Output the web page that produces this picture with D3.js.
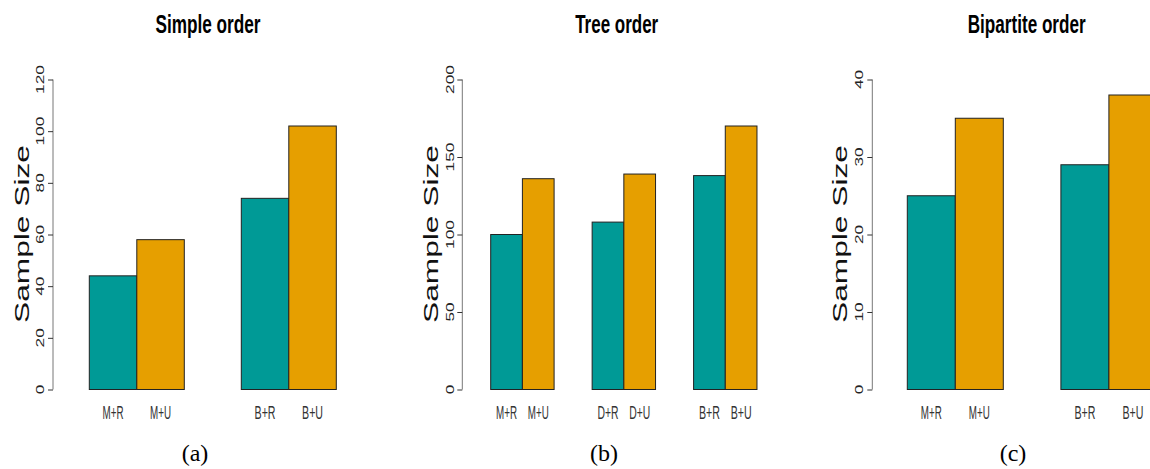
<!DOCTYPE html>
<html>
<head>
<meta charset="utf-8">
<script src="https://cdn.jsdelivr.net/npm/d3@7"></script>
<style>
body { margin: 0; background: #fff; }
svg { display: block; }
</style>
</head>
<body>
<svg width="1150" height="469"></svg>
<script>
// values
var simpleCats = ["M+R", "M+U", "B+R", "B+U"];
var simpleVals = [44, 58, 74, 102];
var simpleTicks = [0, 20, 40, 60, 80, 100, 120];

var treeCats = ["M+R", "M+U", "D+R", "D+U", "B+R", "B+U"];
var treeVals = [100, 136, 108, 139, 138, 170];
var treeTicks = [0, 50, 100, 150, 200];

var bipCats = ["M+R", "M+U", "B+R", "B+U"];
var bipVals = [25, 35, 29, 38];
var bipTicks = [0, 10, 20, 30, 40];

var titles = ["Simple order", "Tree order", "Bipartite order"];
var captions = ["(a)", "(b)", "(c)"];
var colors = ["#009a96", "#e69f00"];

var svg = d3.select("svg");

var panels = [
    {cats: simpleCats, vals: simpleVals, ticks: simpleTicks, axisX: 53, barStart: 89.3, barW: 47.5,
     tickX: 40, ylabX: 21, titleX: 208, titleW: 105, capX: 195},
    {cats: treeCats, vals: treeVals, ticks: treeTicks, axisX: 462.3, barStart: 490.7, barW: 31.7,
     tickX: 450, ylabX: 430.5, titleX: 616.7, titleW: 83, capX: 604},
    {cats: bipCats, vals: bipVals, ticks: bipTicks, axisX: 872.3, barStart: 907.3, barW: 48,
     tickX: 859, ylabX: 839.5, titleX: 1026.7, titleW: 118, capX: 1013}
];

var yTop = 79.5, yBottom = 389.5, groupGap = 1.2;

panels.forEach(function(p, i) {
    var g = svg.append("g");

    var yscale = d3.scaleLinear()
        .domain([0, d3.max(p.ticks)])
        .range([yBottom, yTop]);

    var xscale = d3.scaleLinear()
        .domain([0, 1])
        .range([p.barStart, p.barStart + p.barW]);

    var slot = function(k) {
        return Math.floor(k / 2) * (2 + groupGap) + (k % 2);
    };

    // bars
    g.selectAll("rect.bar")
        .data(p.vals)
        .enter()
        .append("rect")
        .attr("class", "bar")
        .attr("x", function(d, k) { return xscale(slot(k)); })
        .attr("y", function(d) { return yscale(d); })
        .attr("width", function(d, k) { return xscale(slot(k) + 1) - xscale(slot(k)); })
        .attr("height", function(d) { return yscale(0) - yscale(d); })
        .attr("fill", function(d, k) { return colors[k % 2]; })
        .attr("stroke", "#222")
        .attr("stroke-width", 1);

    // y axis
    var axis = g.append("g")
        .attr("transform", "translate(" + p.axisX + ",0)")
        .call(d3.axisLeft(yscale).tickValues(p.ticks).tickSize(5).tickFormat(""));
    axis.select(".domain").attr("stroke", "#777").attr("d", "M0," + yTop + "V" + yBottom);
    axis.selectAll(".tick line").attr("stroke", "#333");
    axis.selectAll(".tick text").remove();

    g.selectAll(".ticklab")
        .data(p.ticks)
        .enter()
        .append("text")
        .attr("class", "ticklab")
        .attr("transform", function(d) {
            return "translate(" + p.tickX + "," + yscale(d) + ") rotate(-90)";
        })
        .attr("text-anchor", "middle")
        .attr("dominant-baseline", "central")
        .attr("font-family", "Liberation Sans, Arial, sans-serif")
        .attr("font-size", 11)
        .attr("fill", "#222")
        .attr("textLength", function(d) { return String(d).length * 9.6; })
        .attr("lengthAdjust", "spacingAndGlyphs")
        .text(function(d) { return d; });

    // y title
    g.append("text")
        .attr("transform", "translate(" + p.ylabX + ",234) rotate(-90)")
        .attr("text-anchor", "middle")
        .attr("dominant-baseline", "central")
        .attr("font-family", "Liberation Sans, Arial, sans-serif")
        .attr("font-size", 21)
        .attr("fill", "#111")
        .attr("textLength", 178)
        .attr("lengthAdjust", "spacingAndGlyphs")
        .text("Sample Size");

    // category labels
    g.selectAll(".cat")
        .data(p.cats)
        .enter()
        .append("text")
        .attr("class", "cat")
        .attr("x", function(d, k) { return xscale(slot(k) + 0.5); })
        .attr("y", 419)
        .attr("text-anchor", "middle")
        .attr("font-family", "Liberation Sans, Arial, sans-serif")
        .attr("font-size", 18)
        .attr("fill", "#333")
        .attr("textLength", 21)
        .attr("lengthAdjust", "spacingAndGlyphs")
        .text(function(d) { return d; });

    // title
    g.append("text")
        .attr("x", p.titleX)
        .attr("y", 33)
        .attr("text-anchor", "middle")
        .attr("font-family", "Liberation Sans, Arial, sans-serif")
        .attr("font-weight", "bold")
        .attr("font-size", 25)
        .attr("fill", "#000")
        .attr("textLength", p.titleW)
        .attr("lengthAdjust", "spacingAndGlyphs")
        .text(titles[i]);

    // caption
    g.append("text")
        .attr("x", p.capX)
        .attr("y", 461)
        .attr("text-anchor", "middle")
        .attr("font-family", "Liberation Serif, DejaVu Serif, serif")
        .attr("font-size", 24)
        .attr("fill", "#000")
        .text(captions[i]);
});
</script>
</body>
</html>
